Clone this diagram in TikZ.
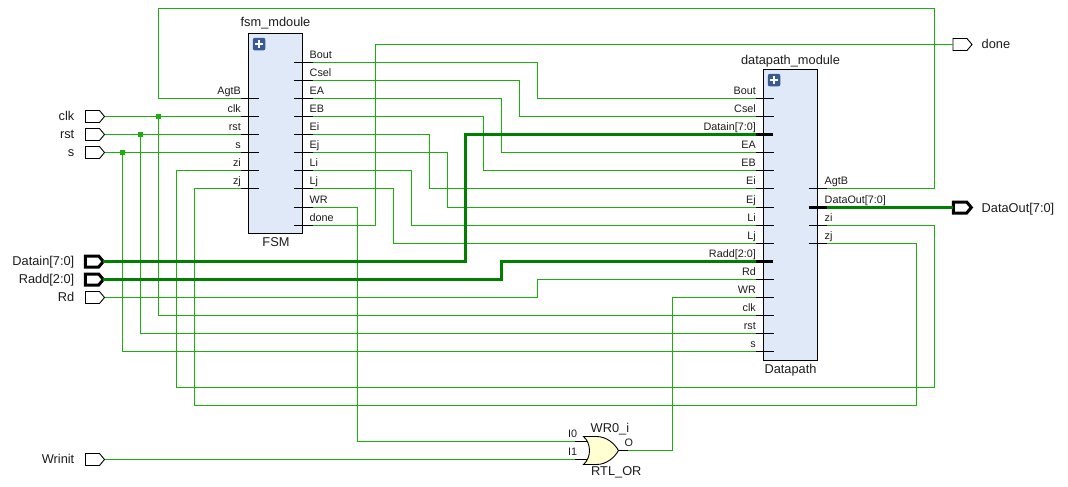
\documentclass[tikz,border=0pt]{standalone}
\usepackage{fontspec}
\setmainfont{Liberation Sans}
\usetikzlibrary{shapes.symbols}
\definecolor{wirec}{HTML}{1AB00C}
\definecolor{busc}{HTML}{008000}
\definecolor{boxc}{HTML}{DFE9F7}
\definecolor{iconc}{HTML}{3A5A94}
\definecolor{gatec}{HTML}{FFFFD2}
\definecolor{txtc}{HTML}{1C1C1C}
\tikzset{
  wire/.style={draw=wirec,line width=1.1pt},
  bus/.style={draw=busc,line width=3pt},
  stub/.style={draw=black,line width=1.1pt},
  busstub/.style={draw=black,line width=3pt},
  block/.style={draw=black,fill=boxc,line width=1.1pt,inner sep=0pt,outer sep=0pt},
  icon/.style={fill=iconc,rounded corners=2pt,minimum size=12.5pt,inner sep=0pt},
  junct/.style={fill=wirec,minimum size=5pt,inner sep=0pt},
  portbase/.style={signal,signal to=east,draw=black,fill=white,inner sep=0pt,outer sep=0pt,minimum height=12pt,minimum width=19pt,signal pointer angle=100},
  port/.style={portbase,line width=.9pt},
  busport/.style={portbase,line width=3pt,minimum height=11pt,minimum width=18pt},
  pinlab/.style={font=\fontsize{10.8}{12}\selectfont,text=txtc,inner sep=0pt},
  lab/.style={font=\fontsize{12.8}{14}\selectfont,text=txtc,inner sep=0pt}
}
\begin{document}
\begin{tikzpicture}[x=1pt,y=-1pt]
\useasboundingbox (-.5,-.5) rectangle (1067.5,486.5);
% pin coordinates
\foreach \n/\y in {AgtB/98,clk/116,rst/134,s/152,zi/170,zj/188}{\coordinate (fL\n) at (240,\y);}
\foreach \n/\y in {Bout/62,Csel/80,EA/98,EB/116,Ei/134,Ej/152,Li/170,Lj/188,WR/207,done/225}{\coordinate (fR\n) at (312,\y);}
\foreach \n/\y in {Bout/98,Csel/116,Datain/134,EA/152,EB/170,Ei/188,Ej/207,Li/225,Lj/243,Radd/261,Rd/279,WR/297,clk/315,rst/333,s/351}{\coordinate (dL\n) at (755,\y);}
\foreach \n/\y in {AgtB/188,DataOut/207,zi/225,zj/243}{\coordinate (dR\n) at (826,\y);}
\coordinate (orI0) at (574,441);
\coordinate (orI1) at (574,459);
\coordinate (orO) at (627,450);
% ports
\node[port] (pclk) at (92,116) {};
\node[port] (prst) at (92,134) {};
\node[port] (ps) at (92,152) {};
\node[busport] (pDatain) at (91.5,261) {};
\node[busport] (pRadd) at (91.5,279) {};
\node[port] (pRd) at (92,297) {};
\node[port] (pWrinit) at (92,459) {};
\node[port] (pdone) at (959.5,44) {};
\node[busport] (pDataOut) at (959.5,207) {};
\node[lab,anchor=base east] (tclk) at (74,120) {clk};
\node[lab,anchor=base east] (trst) at (74,138) {rst};
\node[lab,anchor=base east] (ts) at (74,156) {s};
\node[lab,anchor=base east] (tDatain) at (74,265) {Datain[7:0]};
\node[lab,anchor=base east] (tRadd) at (74,283) {Radd[2:0]};
\node[lab,anchor=base east] (tRd) at (74,301) {Rd};
\node[lab,anchor=base east] (tWrinit) at (74,463) {Wrinit};
\node[lab,anchor=base west] (tdone) at (981,48) {done};
\node[lab,anchor=base west] (tDataOut) at (981,211.5) {DataOut[7:0]};
% wires
\draw[wire] (fLAgtB) -- (158,98) -- (158,8) -- (934,8) -- (934,188) -- (dRAgtB);
\draw[wire] (pclk.east) -- (fLclk);
\draw[wire] (prst.east) -- (fLrst);
\draw[wire] (ps.east) -- (fLs);
\draw[wire] (158,116) -- (158,315) -- (dLclk);
\draw[wire] (140,134) -- (140,333) -- (dLrst);
\draw[wire] (122,152) -- (122,351) -- (dLs);
\draw[wire] (fLzi) -- (176,170) -- (176,387) -- (934,387) -- (934,225) -- (dRzi);
\draw[wire] (fLzj) -- (194,188) -- (194,405) -- (916,405) -- (916,243) -- (dRzj);
\draw[wire] (fRBout) -- (537,62) -- (537,98) -- (dLBout);
\draw[wire] (fRCsel) -- (519,80) -- (519,116) -- (dLCsel);
\draw[wire] (fREA) -- (501,98) -- (501,152) -- (dLEA);
\draw[wire] (fREB) -- (483,116) -- (483,170) -- (dLEB);
\draw[wire] (fREi) -- (429,134) -- (429,188) -- (dLEi);
\draw[wire] (fREj) -- (447,152) -- (447,207) -- (dLEj);
\draw[wire] (fRLi) -- (411,170) -- (411,225) -- (dLLi);
\draw[wire] (fRLj) -- (393,188) -- (393,243) -- (dLLj);
\draw[wire] (fRWR) -- (357,207) -- (357,441) -- (orI0);
\draw[wire] (fRdone) -- (375,225) -- (375,44) -- (pdone.west);
\draw[wire] (pWrinit.east) -- (orI1);
\draw[wire] (pRd.east) -- (537,297) -- (537,279) -- (dLRd);
\draw[wire] (orO) -- (672,450) -- (672,297) -- (dLWR);
\draw[bus] (pDatain.east) -- (465,261) -- (465,134) -- (dLDatain);
\draw[bus] (pRadd.east) -- (501,279) -- (501,261) -- (dLRadd);
\draw[bus] (dRDataOut) -- (pDataOut.west);
\node[junct] (j1) at (158,116) {};
\node[junct] (j2) at (140,134) {};
\node[junct] (j3) at (122,152) {};
% blocks
\node[block,minimum width=54pt,minimum height=200pt] (fsm) at (275,133) {};
\node[block,minimum width=54pt,minimum height=291pt] (dp) at (790,214.5) {};
\node[icon] (ficon) at (258.6,43.6) {};
\draw[white,line width=2pt] (254.8,43.6) -- (262.4,43.6) (258.6,39.8) -- (258.6,47.4);
\node[icon] (dicon) at (773.6,79.6) {};
\draw[white,line width=2pt] (769.8,79.6) -- (777.4,79.6) (773.6,75.8) -- (773.6,83.4);
\node[lab,anchor=base] (tf1) at (275,26.5) {fsm\_mdoule};
\node[lab,anchor=base] (tf2) at (275.5,245.5) {FSM};
\node[lab,anchor=base] (td1) at (790,63.5) {datapath\_module};
\node[lab,anchor=base] (td2) at (790,372.5) {Datapath};
% stubs and labels
\foreach \n/\l/\y in {AgtB/AgtB/98,clk/clk/116,rst/rst/134,s/s/152,zi/zi/170,zj/zj/188}{
  \draw[stub] (fL\n) -- (258,\y);
  \node[pinlab,anchor=base east] (lfL\n) at (240.5,\y-4) {\l};
}
\foreach \n/\l/\y in {Bout/Bout/62,Csel/Csel/80,EA/EA/98,EB/EB/116,Ei/Ei/134,Ej/Ej/152,Li/Li/170,Lj/Lj/188,WR/WR/207,done/done/225}{
  \draw[stub] (293,\y) -- (fR\n);
  \node[pinlab,anchor=base west] (lfR\n) at (309,\y-4) {\l};
}
\foreach \n/\l/\y in {Bout/Bout/98,Csel/Csel/116,EA/EA/152,EB/EB/170,Ei/Ei/188,Ej/Ej/207,Li/Li/225,Lj/Lj/243,Rd/Rd/279,WR/WR/297,clk/clk/315,rst/rst/333,s/s/351}{
  \draw[stub] (dL\n) -- (773,\y);
  \node[pinlab,anchor=base east] (ldL\n) at (755.5,\y-4) {\l};
}
\foreach \n/\l/\y in {Datain/{Datain[7:0]}/134,Radd/{Radd[2:0]}/261}{
  \draw[busstub] (dL\n) -- (772,\y);
  \node[pinlab,anchor=base east] (ldL\n) at (755.5,\y-4) {\l};
}
\foreach \n/\l/\y in {AgtB/AgtB/188,zi/zi/225,zj/zj/243}{
  \draw[stub] (808,\y) -- (dR\n);
  \node[pinlab,anchor=base west] (ldR\n) at (824,\y-4) {\l};
}
\draw[busstub] (808,207) -- (dRDataOut);
\node[pinlab,anchor=base west] (ldRDataOut) at (824,203) {DataOut[7:0]};
% OR gate
\draw[stub] (orI0) -- (587,441);
\draw[stub] (orI1) -- (587,459);
\draw[stub] (618,450) -- (orO);
\draw[black,fill=gatec,line width=.9pt] (583,436) -- (596,436) .. controls (606,436) and (614,443) .. (618,450) .. controls (614,457) and (606,464) .. (596,464) -- (583,464) .. controls (591,457) and (591,443) .. (583,436) -- cycle;
\node[pinlab,anchor=base west] (lI0) at (567.5,436.5) {I0};
\node[pinlab,anchor=base west] (lI1) at (567.5,454.5) {I1};
\node[pinlab,anchor=base west] (lO) at (624,446) {O};
\node[lab,anchor=base west] (tor1) at (590,431.5) {WR0\_i};
\node[lab,anchor=base west] (tor2) at (590.5,475) {RTL\_OR};
\end{tikzpicture}
\end{document}
